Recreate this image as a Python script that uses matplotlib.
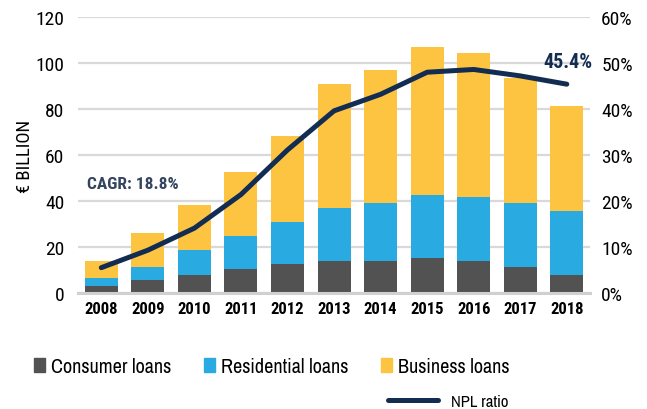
import matplotlib
matplotlib.use("Agg")
import matplotlib.pyplot as plt
from matplotlib.patches import Patch
from matplotlib.lines import Line2D
from matplotlib import font_manager

years = ["2008", "2009", "2010", "2011", "2012", "2013", "2014", "2015", "2016", "2017", "2018"]
consumer = [3.2, 5.5, 8.0, 10.3, 12.8, 13.9, 13.9, 15.2, 13.9, 11.4, 7.8]
residential = [3.5, 5.9, 10.7, 14.5, 18.1, 22.9, 25.2, 27.6, 27.8, 27.7, 27.9]
business = [7.1, 14.5, 19.4, 27.7, 37.4, 54.2, 58.0, 64.0, 62.6, 54.4, 45.7]
npl_ratio = [5.5, 9.3, 14.1, 21.4, 31.1, 39.6, 43.2, 48.0, 48.6, 47.2, 45.4]

names = {f.name for f in font_manager.fontManager.ttflist}
fam = "Roboto Condensed" if "Roboto Condensed" in names else "Roboto"
legfam = "Archivo Narrow" if "Archivo Narrow" in names else fam
plt.rcParams["font.family"] = [fam, "DejaVu Sans"]

c_cons = "#525252"
c_res = "#29ABE2"
c_bus = "#FDC442"
c_line = "#132d52"

fig = plt.figure(figsize=(6.47, 4.10), dpi=100)
ax = fig.add_axes([0.1206, 0.283, 0.7914, 0.673])
x = list(range(len(years)))
w = 0.71
bot2 = [a + b for a, b in zip(consumer, residential)]
ax.bar(x, consumer, w, color=c_cons, zorder=3)
ax.bar(x, residential, w, bottom=consumer, color=c_res, zorder=3)
ax.bar(x, business, w, bottom=bot2, color=c_bus, zorder=3)
ax.set_xlim(-0.5, 10.5)
ax.set_ylim(0, 120)
ax.set_yticks([0, 20, 40, 60, 80, 100, 120])
ax.grid(axis="y", color="#d9d9d9", linewidth=1.6, zorder=0)
for s in ["top", "right", "left"]:
    ax.spines[s].set_visible(False)
ax.spines["bottom"].set_color("#d0d0d0")
ax.spines["bottom"].set_linewidth(2.2)
ax.spines["bottom"].set_zorder(4)
ax.tick_params(axis="both", length=0)
ax.tick_params(axis="y", labelsize=14, pad=10)
ax.set_xticks(x)
ax.set_xticklabels(years, fontsize=12, fontweight="bold")
ax.tick_params(axis="x", pad=6)
ax.set_ylabel("€ BILLION", fontsize=13.5, labelpad=1)

ax2 = ax.twinx()
ax2.plot(x, npl_ratio, color=c_line, linewidth=3.6, solid_capstyle="round", zorder=5)
ax2.set_ylim(0, 60)
ax2.set_yticks([0, 10, 20, 30, 40, 50, 60])
ax2.set_yticklabels([f"{v}%" for v in [0, 10, 20, 30, 40, 50, 60]])
ax2.tick_params(axis="y", length=0, labelsize=14, pad=8)
for s in ["top", "right", "left", "bottom"]:
    ax2.spines[s].set_visible(False)

ax2.text(10.03, npl_ratio[-1] + 5.0, f"{npl_ratio[-1]}%", color=c_line, fontsize=14.5,
         fontweight="bold", ha="center", va="center")
ax.text(-0.3, 47.8, "CAGR: 18.8%", color="#34455f", fontsize=12.5, fontweight="bold",
        ha="left", va="center")

h1 = [Patch(color=c_cons, label="Consumer loans"),
      Patch(color=c_res, label="Residential loans"),
      Patch(color=c_bus, label="Business loans")]
leg1 = fig.legend(handles=h1, ncol=3, loc="center", bbox_to_anchor=(0.42, 0.103),
                  frameon=False, prop={"family": legfam, "size": 14.5},
                  handlelength=0.55, handleheight=0.65,
                  handletextpad=0.3, columnspacing=1.6)
h2 = [Line2D([0], [0], color=c_line, linewidth=3.6, solid_capstyle="round", label="NPL ratio")]
leg2 = fig.legend(handles=h2, loc="center", bbox_to_anchor=(0.693, 0.018), frameon=False,
                  prop={"family": legfam, "size": 12}, handlelength=3.0, handletextpad=0.8)

fig.savefig("out.png", dpi=100)
